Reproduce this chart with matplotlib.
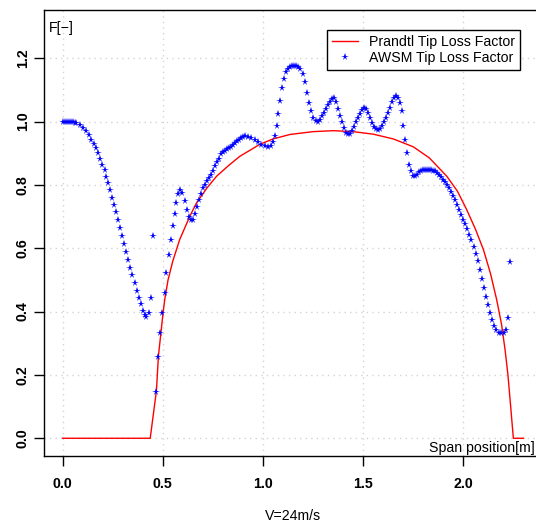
import matplotlib
matplotlib.use("Agg")
import matplotlib.pyplot as plt

plt.rcParams['font.family'] = ['Liberation Sans', 'DejaVu Sans']

# Prandtl tip loss factor (red line)
prandtl_x = [0.0, 0.437, 0.468, 0.478, 0.49, 0.50, 0.51, 0.526, 0.55, 0.584, 0.634, 0.668,
             0.72, 0.768, 0.83, 0.884, 0.95, 0.984, 1.05, 1.134, 1.25, 1.35, 1.45, 1.55,
             1.65, 1.75, 1.83, 1.917, 1.97, 2.016, 2.06, 2.1, 2.135, 2.166, 2.19, 2.208,
             2.222, 2.233, 2.249, 2.30]
prandtl_y = [0.0, 0.0, 0.15, 0.26, 0.33, 0.39, 0.44, 0.50, 0.56, 0.627, 0.70, 0.743,
             0.79, 0.827, 0.862, 0.89, 0.915, 0.928, 0.945, 0.959, 0.968, 0.971, 0.968, 0.96,
             0.945, 0.92, 0.885, 0.827, 0.78, 0.722, 0.66, 0.595, 0.52, 0.437, 0.36, 0.278,
             0.20, 0.12, 0.0, 0.0]

# AWSM tip loss factor (blue stars)
awsm_x = [0.0, 0.01, 0.02, 0.03, 0.04, 0.05, 0.06, 0.068, 0.085, 0.101, 0.118, 0.131, 0.143,
          0.155, 0.165, 0.176, 0.188, 0.198, 0.21, 0.218, 0.228, 0.238, 0.248, 0.258, 0.268,
          0.278, 0.288, 0.298, 0.308, 0.318, 0.328, 0.338, 0.348, 0.36, 0.37, 0.38, 0.39,
          0.40, 0.41, 0.418, 0.43, 0.44, 0.45, 0.468, 0.476, 0.488, 0.498, 0.509, 0.518,
          0.529, 0.539, 0.549, 0.559, 0.568, 0.578, 0.588, 0.598, 0.609, 0.619, 0.629, 0.639,
          0.649, 0.659, 0.669, 0.679, 0.689, 0.699, 0.709, 0.719, 0.729, 0.739, 0.749, 0.759,
          0.769, 0.779, 0.789, 0.799, 0.811, 0.821, 0.831, 0.841, 0.851, 0.861, 0.871, 0.881,
          0.891, 0.901, 0.911, 0.925, 0.942, 0.959, 0.975, 0.992, 1.009, 1.025, 1.039, 1.049,
          1.059, 1.069, 1.077, 1.087, 1.097, 1.106, 1.116, 1.126, 1.136, 1.146, 1.156, 1.166,
          1.176, 1.186, 1.197, 1.21, 1.221, 1.231, 1.241, 1.251, 1.262, 1.272, 1.282, 1.292,
          1.302, 1.312, 1.322, 1.332, 1.342, 1.352, 1.362, 1.372, 1.382, 1.392, 1.402, 1.412,
          1.422, 1.432, 1.442, 1.452, 1.462, 1.472, 1.482, 1.492, 1.502, 1.512, 1.522, 1.532,
          1.542, 1.552, 1.562, 1.572, 1.582, 1.592, 1.602, 1.612, 1.622, 1.632, 1.642, 1.652,
          1.662, 1.672, 1.682, 1.692, 1.70, 1.709, 1.72, 1.73, 1.739, 1.75, 1.76, 1.77, 1.78,
          1.79, 1.80, 1.81, 1.82, 1.83, 1.84, 1.85, 1.86, 1.87, 1.88, 1.89, 1.90, 1.91, 1.92,
          1.93, 1.94, 1.95, 1.96, 1.97, 1.98, 1.99, 2.0, 2.01, 2.02, 2.03, 2.04, 2.052, 2.062,
          2.072, 2.082, 2.092, 2.102, 2.112, 2.122, 2.132, 2.142, 2.152, 2.162, 2.175, 2.186,
          2.2, 2.21, 2.221, 2.233]
awsm_y = [1.0, 1.0, 1.0, 0.999, 0.998, 0.997, 0.996, 0.996, 0.99, 0.98, 0.969, 0.956, 0.943,
          0.929, 0.915, 0.901, 0.882, 0.864, 0.846, 0.825, 0.806, 0.783, 0.76, 0.737, 0.713,
          0.688, 0.664, 0.637, 0.613, 0.588, 0.562, 0.539, 0.516, 0.49, 0.466, 0.442, 0.423,
          0.402, 0.389, 0.382, 0.397, 0.442, 0.639, 0.147, 0.257, 0.331, 0.395, 0.458, 0.521,
          0.577, 0.627, 0.669, 0.708, 0.743, 0.771, 0.785, 0.774, 0.748, 0.722, 0.70, 0.688,
          0.69, 0.708, 0.729, 0.751, 0.771, 0.79, 0.80, 0.811, 0.822, 0.832, 0.845, 0.859,
          0.871, 0.883, 0.896, 0.903, 0.908, 0.914, 0.917, 0.921, 0.925, 0.933, 0.938, 0.943,
          0.948, 0.952, 0.953, 0.952, 0.948, 0.941, 0.935, 0.927, 0.922, 0.919, 0.924, 0.935,
          0.954, 0.985, 1.024, 1.064, 1.106, 1.135, 1.156, 1.166, 1.173, 1.175, 1.175, 1.175,
          1.173, 1.166, 1.149, 1.124, 1.091, 1.059, 1.033, 1.012, 1.003, 0.999, 1.004, 1.017,
          1.028, 1.038, 1.051, 1.062, 1.07, 1.073, 1.062, 1.038, 1.017, 0.998, 0.98, 0.964,
          0.959, 0.959, 0.969, 0.983, 0.998, 1.012, 1.025, 1.036, 1.043, 1.04, 1.028, 1.012,
          0.996, 0.983, 0.975, 0.972, 0.975, 0.985, 0.998, 1.012, 1.028, 1.043, 1.061, 1.075,
          1.082, 1.075, 1.059, 1.033, 0.985, 0.941, 0.899, 0.864, 0.843, 0.829, 0.827, 0.832, 0.84,
          0.844, 0.846, 0.847, 0.848, 0.848, 0.847, 0.845, 0.843, 0.838, 0.832, 0.825, 0.816, 0.808, 0.80,
          0.789, 0.776, 0.764, 0.751, 0.737, 0.722, 0.706, 0.69, 0.677, 0.66, 0.642, 0.627, 0.605, 0.582,
          0.561, 0.532, 0.503, 0.474, 0.447, 0.421, 0.395, 0.373, 0.355, 0.342, 0.333, 0.331,
          0.333, 0.342, 0.379, 0.558]

x_ticks = [0.0, 0.5, 1.0, 1.5, 2.0]
y_ticks = [0.0, 0.2, 0.4, 0.6, 0.8, 1.0, 1.2]

W, H = 536, 526
fig = plt.figure(figsize=(W / 100, H / 100), dpi=100)
ax = fig.add_axes([43.8 / W, 1 - 456 / H, (542 - 43.8) / W, (456 - 10) / H])

ax.plot(prandtl_x, prandtl_y, color='red', lw=1, label='Prandtl Tip Loss Factor')
ax.plot(awsm_x, awsm_y, ls='none', marker='*', ms=5.5, mew=0, color='blue',
        label='AWSM Tip Loss Factor')

ax.set_xlim(-0.094, 2.392)
ax.set_ylim(-0.056, 1.352)
ax.set_xticks(x_ticks)
ax.set_yticks(y_ticks)
ax.set_xticklabels(['%.1f' % v for v in x_ticks], fontsize=10.2, fontweight='bold')
ax.set_yticklabels(['%.1f' % v for v in y_ticks], fontsize=10.2, fontweight='bold',
                   rotation=90, va='center')
ax.tick_params(direction='out', length=7, width=1)
ax.tick_params(axis='x', pad=8)
ax.tick_params(axis='y', pad=3)
ax.grid(True, color='#d3d3d3', ls=(0, (1, 3)), lw=1)
for s in ax.spines.values():
    s.set_linewidth(1)

ax.set_xlabel('V=24m/s', fontsize=10.2, labelpad=13)

fig.text(49 / W, 1 - 32 / H, 'F[\u2212]', fontsize=10.2, ha='left', va='baseline')
fig.text(535 / W, 1 - 452 / H, 'Span position[m]', fontsize=10.2, ha='right', va='baseline')

leg = ax.legend(loc='upper right', bbox_to_anchor=(520 / W, 1 - 30 / H),
                bbox_transform=fig.transFigure, fontsize=10.2, frameon=True,
                fancybox=False, framealpha=1, edgecolor='black', borderpad=0.35,
                handlelength=1.8, handletextpad=0.8, labelspacing=0.15, borderaxespad=0)
leg.get_frame().set_linewidth(1)

fig.savefig('out.png', dpi=100)
